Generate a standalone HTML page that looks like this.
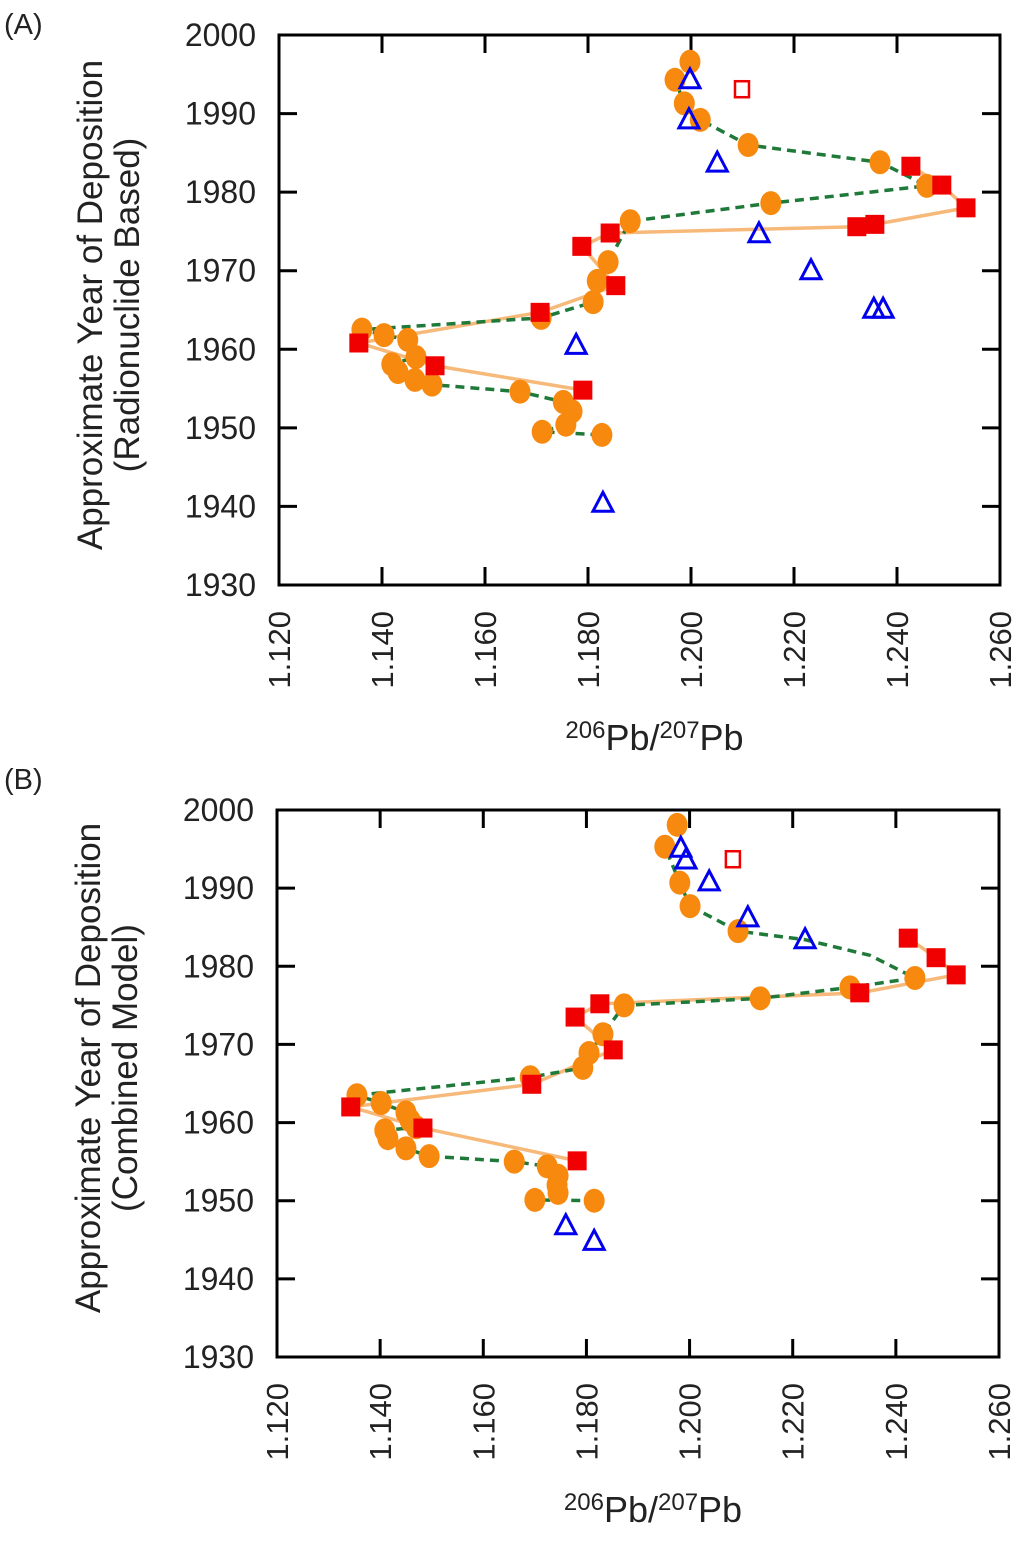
<!DOCTYPE html>
<html><head><meta charset="utf-8">
<style>
html,body{margin:0;padding:0;background:#fff;}
svg{display:block;font-family:"Liberation Sans",Arial,sans-serif;}
</style></head>
<body>
<svg id="chart" width="1024" height="1549" viewBox="0 0 1024 1549" xmlns="http://www.w3.org/2000/svg"></svg>
<script>
// ---------- Shared tick data ----------
const xTicks = [1.12, 1.14, 1.16, 1.18, 1.20, 1.22, 1.24, 1.26];
const xTickLabels = ["1.120","1.140","1.160","1.180","1.200","1.220","1.240","1.260"];
const yTicks = [1930, 1940, 1950, 1960, 1970, 1980, 1990, 2000];
const yTickLabels = ["1930","1940","1950","1960","1970","1980","1990","2000"];

// ---------- Panel A data ----------
const aCircleX = [1.1998,1.1969,1.1987,1.2018,1.2111,1.2367,1.2458,1.2155,1.1882,1.1839,1.1818,1.1810,1.1709,1.1361,1.1404,1.1450,1.1466,1.1419,1.1431,1.1464,1.1497,1.1668,1.1752,1.1769,1.1757,1.1711,1.1827];
const aCircleY = [1996.6,1994.3,1991.3,1989.2,1986.0,1983.8,1980.8,1978.6,1976.3,1971.1,1968.7,1966.0,1964.0,1962.5,1961.8,1961.2,1959.0,1958.1,1957.1,1956.1,1955.5,1954.6,1953.3,1952.1,1950.4,1949.5,1949.1];
const aSquareX = [1.2427,1.2487,1.2534,1.2357,1.2322,1.1843,1.1788,1.1854,1.1707,1.1355,1.1503,1.1790];
const aSquareY = [1983.3,1980.9,1978.0,1975.9,1975.6,1974.8,1973.1,1968.1,1964.7,1960.8,1957.9,1954.8];
const aOpenX = [1.2099];
const aOpenY = [1993.1];
const aTriX = [1.1998,1.1996,1.2051,1.2132,1.2233,1.2355,1.2373,1.1777,1.1829];
const aTriY = [1994.3,1989.2,1983.7,1974.7,1970.0,1965.1,1965.1,1960.5,1940.4];

// ---------- Panel B data ----------
const bCircleX = [1.1976,1.1952,1.1981,1.2001,1.2094,1.2437,1.2311,1.2137,1.1873,1.1832,1.1805,1.1793,1.1691,1.1355,1.1402,1.1450,1.1458,1.1470,1.1409,1.1415,1.1450,1.1495,1.1660,1.1724,1.1745,1.1743,1.1745,1.1700,1.1815];
const bCircleY = [1998.1,1995.3,1990.7,1987.7,1984.5,1978.5,1977.3,1975.9,1975.0,1971.3,1968.9,1967.0,1965.8,1963.5,1962.5,1961.3,1960.3,1959.4,1959.0,1958.0,1956.7,1955.7,1955.0,1954.4,1953.2,1952.0,1951.0,1950.1,1950.0];
const bSquareX = [1.2424,1.2478,1.2517,1.2330,1.1826,1.1778,1.1852,1.1694,1.1343,1.1483,1.1782];
const bSquareY = [1983.6,1981.1,1978.9,1976.6,1975.2,1973.5,1969.3,1964.9,1962.0,1959.3,1955.1];
const bOpenX = [1.2084];
const bOpenY = [1993.7];
const bTriX = [1.1983,1.1993,1.2038,1.2113,1.2224,1.1760,1.1815];
const bTriY = [1995.1,1993.6,1990.8,1986.2,1983.4,1946.8,1944.8];
// dashed line extra bend points (between circles 5 and 6)
const bBendX = [1.2224,1.2350];
const bBendY = [1983.4,1981.4];

const NS = "http://www.w3.org/2000/svg";
const svg = document.getElementById("chart");
function mk(tag, attrs, parent){
  const e = document.createElementNS(NS, tag);
  for (const k in attrs) e.setAttribute(k, attrs[k]);
  (parent||svg).appendChild(e);
  return e;
}

function panel(cfg){
  const g = mk("g", {});
  
  
  const L=cfg.left, R=cfg.right, T=cfg.top, B=cfg.bottom;
  const sx = v => L + (v - 1.12) / 0.14 * (R - L);
  const sy = v => B - (v - 1930) / 70 * (B - T);

  const pl = mk("text", {x:4, y:cfg.labelY, "font-size":29, fill:"#222"}, g);
  pl.textContent = cfg.label;
  
  

  const tg = mk("g", {stroke:"#000","stroke-width":3}, g);
  
  
  xTicks.forEach((v,i)=>{
    const x = sx(v);
    if (i>0 && i<xTicks.length-1){
      mk("line",{x1:x,y1:B,x2:x,y2:B-18},tg);
      mk("line",{x1:x,y1:T,x2:x,y2:T+18},tg);
    }
    const t = mk("text",{x:0,y:0,"font-size":31,fill:"#222","text-anchor":"end",
      transform:`translate(${x+11},${B+26}) rotate(-90)`},g);
    t.textContent = xTickLabels[i];
    
    
  });
  yTicks.forEach((v,i)=>{
    const y = sy(v);
    if (i>0 && i<yTicks.length-1){
      mk("line",{x1:L,y1:y,x2:L+18,y2:y},tg);
      mk("line",{x1:R,y1:y,x2:R-18,y2:y},tg);
    }
    const t = mk("text",{x:L-23,y:y+11,"font-size":32,fill:"#222","text-anchor":"end"},g);
    t.textContent = yTickLabels[i];
    
    
  });
  const frame = mk("rect",{x:L,y:T,width:R-L,height:B-T,fill:"none",stroke:"#000","stroke-width":3},g);
  
  

  const xt = mk("text",{x:(L+R)/2+15,y:B+165,"font-size":36,fill:"#222","text-anchor":"middle"},g);
  xt.innerHTML = '<tspan font-size="24" dy="-12">206</tspan><tspan dy="12">Pb/</tspan><tspan font-size="24" dy="-12">207</tspan><tspan dy="12">Pb</tspan>';
  
  
  const cy = cfg.ytc;
  const yt = mk("text",{x:0,y:0,"font-size":35,fill:"#222","text-anchor":"middle",
    transform:`translate(${cfg.ytx},${cy}) rotate(-90)`},g);
  yt.innerHTML = `<tspan x="0" dy="0">Approximate Year of Deposition</tspan><tspan x="0" dy="37">${cfg.ySub}</tspan>`;
  
  

  const sq = cfg.sqX.map((v,i)=>sx(v)+","+sy(cfg.sqY[i])).join(" ");
  const sl = mk("polyline",{points:sq,fill:"none",stroke:"#f7b97a","stroke-width":3.5},g);
  
  
  let cpts = cfg.cX.map((v,i)=>[sx(v),sy(cfg.cY[i])]);
  if (cfg.bendX){
    const bend = cfg.bendX.map((v,i)=>[sx(v),sy(cfg.bendY[i])]);
    cpts = cpts.slice(0,5).concat(bend, cpts.slice(5));
  }
  const dl = mk("polyline",{points:cpts.map(p=>p.join(",")).join(" "),fill:"none",stroke:"#1f7a3a","stroke-width":3.5,"stroke-dasharray":"9,6"},g);
  
  

  cfg.cX.forEach((v,i)=>{
    const c = mk("ellipse",{cx:sx(v),cy:sy(cfg.cY[i]),rx:10.5,ry:12,fill:"#f7890f"},g);
    
    
  });
  cfg.sqX.forEach((v,i)=>{
    const r = mk("rect",{x:sx(v)-9.5,y:sy(cfg.sqY[i])-9.5,width:19,height:19,fill:"#f00000"},g);
    
    
  });
  cfg.oX.forEach((v,i)=>{
    const r = mk("rect",{x:sx(v)-7,y:sy(cfg.oY[i])-8,width:14,height:16,fill:"#fff",stroke:"#f00000","stroke-width":2.5},g);
    
    
  });
  cfg.tX.forEach((v,i)=>{
    const x=sx(v), y=sy(cfg.tY[i]);
    const p = mk("polygon",{points:`${x},${y-11} ${x-10},${y+8} ${x+10},${y+8}`,fill:"none",stroke:"#0000ee","stroke-width":3},g);
    
    
  });
}

panel({name:"panel-a",label:"(A)",labelY:34,left:279,right:1000,top:35,bottom:585,ytx:102,ytc:305,ySub:"(Radionuclide Based)",
  cX:aCircleX,cY:aCircleY,sqX:aSquareX,sqY:aSquareY,oX:aOpenX,oY:aOpenY,tX:aTriX,tY:aTriY});
panel({name:"panel-b",label:"(B)",labelY:789,left:277,right:999,top:810,bottom:1357,ytx:100,ytc:1068,ySub:"(Combined Model)",
  cX:bCircleX,cY:bCircleY,sqX:bSquareX,sqY:bSquareY,oX:bOpenX,oY:bOpenY,tX:bTriX,tY:bTriY,bendX:bBendX,bendY:bBendY});
</script>
</body></html>
